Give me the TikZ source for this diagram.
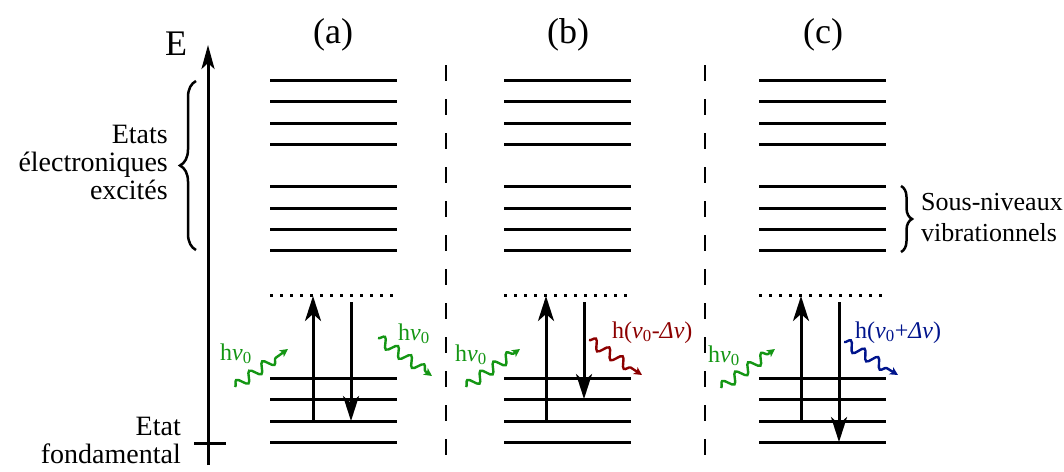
\documentclass[tikz,border=0pt]{standalone}
\usepackage{fontspec}
\setmainfont{Liberation Serif}
\usetikzlibrary{arrows.meta,decorations.pathmorphing,decorations.pathreplacing}
\definecolor{phgreen}{RGB}{20,150,20}
\definecolor{phred}{RGB}{140,0,0}
\definecolor{phblue}{RGB}{0,20,140}
\newcommand\nuv{\textit{ν}}
\newcommand\dnu{\textit{Δν}}
\begin{document}
\begin{tikzpicture}[x=1pt,y=-1pt,
  level/.style={line width=3pt},
  virt/.style={line width=3pt,dash pattern=on 3pt off 7pt},
  sep/.style={line width=2.2pt,dash pattern=on 16pt off 18pt},
  trans/.style={line width=3pt,-{Stealth[length=25pt,width=16pt,inset=7pt]}},
  photon/.style={line width=2.4pt,decorate,decoration={snake,segment length=16pt,amplitude=5pt,post length=8pt},-{Stealth[length=8pt,width=8pt,inset=2pt]}},
  big/.style={font=\fontsize{36}{40}\selectfont,inner sep=0pt},
  lab/.style={font=\fontsize{28}{28}\selectfont,inner sep=0pt},
  rlab/.style={font=\fontsize{26}{31}\selectfont,inner sep=0pt},
  hlab/.style={font=\fontsize{24}{28}\selectfont,inner sep=0pt,anchor=base west},
  brc/.style={line width=2.5pt,decorate,decoration={brace,amplitude=16pt}}]
\useasboundingbox (0,0) rectangle (1064,471);

% energy axis
\coordinate (axb) at (208,465);
\coordinate (axt) at (208,45);
\draw[line width=3pt,-{Stealth[length=24pt,width=13pt,inset=6pt]}] (axb) -- (axt);
\coordinate (tk1) at (194,443);
\coordinate (tk2) at (226,443);
\draw[line width=3pt] (tk1) -- (tk2);
\node[big,anchor=base] (E) at (176,55) {E};

% column titles
\node[big,anchor=base] (ta) at (333,43) {(a)};
\node[big,anchor=base] (tb) at (568,43) {(b)};
\node[big,anchor=base] (tc) at (823,43) {(c)};

% separators
\coordinate (s1t) at (446,65); \coordinate (s1b) at (446,458);
\coordinate (s2t) at (705,65); \coordinate (s2b) at (705,458);
\draw[sep] (s1t) -- (s1b);
\draw[sep] (s2t) -- (s2b);

% levels
\foreach \xa/\xb in {270/397, 504/631, 759/886}{
  \foreach \y in {80,101,123,144,186,208,229,250,378,399,421,442}{
    \draw[level] (\xa,\y) -- (\xb,\y);
  }
  \draw[virt] (\xa,295) -- (\xb,295);
}

% transitions
\coordinate (a1) at (313,421); \coordinate (a2) at (313,296);
\coordinate (a3) at (351,302); \coordinate (a4) at (351,421);
\draw[trans] (a1) -- (a2);
\draw[trans] (a3) -- (a4);
\coordinate (b1) at (546,421); \coordinate (b2) at (546,296);
\coordinate (b3) at (584,302); \coordinate (b4) at (584,399);
\draw[trans] (b1) -- (b2);
\draw[trans] (b3) -- (b4);
\coordinate (c1) at (801,421); \coordinate (c2) at (801,296);
\coordinate (c3) at (839,302); \coordinate (c4) at (839,442);
\draw[trans] (c1) -- (c2);
\draw[trans] (c3) -- (c4);

% photons
\coordinate (pa1) at (235,387); \coordinate (pa2) at (288,349);
\coordinate (pa3) at (378,338); \coordinate (pa4) at (432,376);
\coordinate (pb1) at (466,387); \coordinate (pb2) at (520,349);
\coordinate (pb3) at (589,340); \coordinate (pb4) at (642,375);
\coordinate (pc1) at (721,388); \coordinate (pc2) at (775,349);
\coordinate (pc3) at (844,342); \coordinate (pc4) at (898,375);
\draw[photon,phgreen] (pa1) -- (pa2);
\draw[photon,phgreen] (pa3) -- (pa4);
\draw[photon,phgreen] (pb1) -- (pb2);
\draw[photon,phred] (pb3) -- (pb4);
\draw[photon,phgreen] (pc1) -- (pc2);
\draw[photon,phblue] (pc3) -- (pc4);

\node[hlab,phgreen] (la1) at (220,360) {h\nuv\textsubscript{0}};
\node[hlab,phgreen] (la2) at (398,340) {h\nuv\textsubscript{0}};
\node[hlab,phgreen] (lb1) at (455,361) {h\nuv\textsubscript{0}};
\node[hlab,phred] (lb2) at (612,338) {h(\nuv\textsubscript{0}-\dnu)};
\node[hlab,phgreen] (lc1) at (708,362) {h\nuv\textsubscript{0}};
\node[hlab,phblue] (lc2) at (855,338) {h(\nuv\textsubscript{0}+\dnu)};

% braces and side labels
\coordinate (br1) at (196,250); \coordinate (br2) at (196,81);
\draw[brc] (br1) -- (br2);
\node[lab,anchor=east,align=right] (exc) at (168,162) {Etats\\électroniques\\excités};
\node[lab,anchor=east,align=right] (fond) at (181,440) {Etat\\fondamental};
\coordinate (br3) at (901,186); \coordinate (br4) at (901,252);
\draw[brc,decoration={amplitude=11pt}] (br3) -- (br4);
\node[rlab,anchor=west,align=left] (vib) at (921,218) {Sous-niveaux\\vibrationnels};
\end{tikzpicture}
\end{document}
